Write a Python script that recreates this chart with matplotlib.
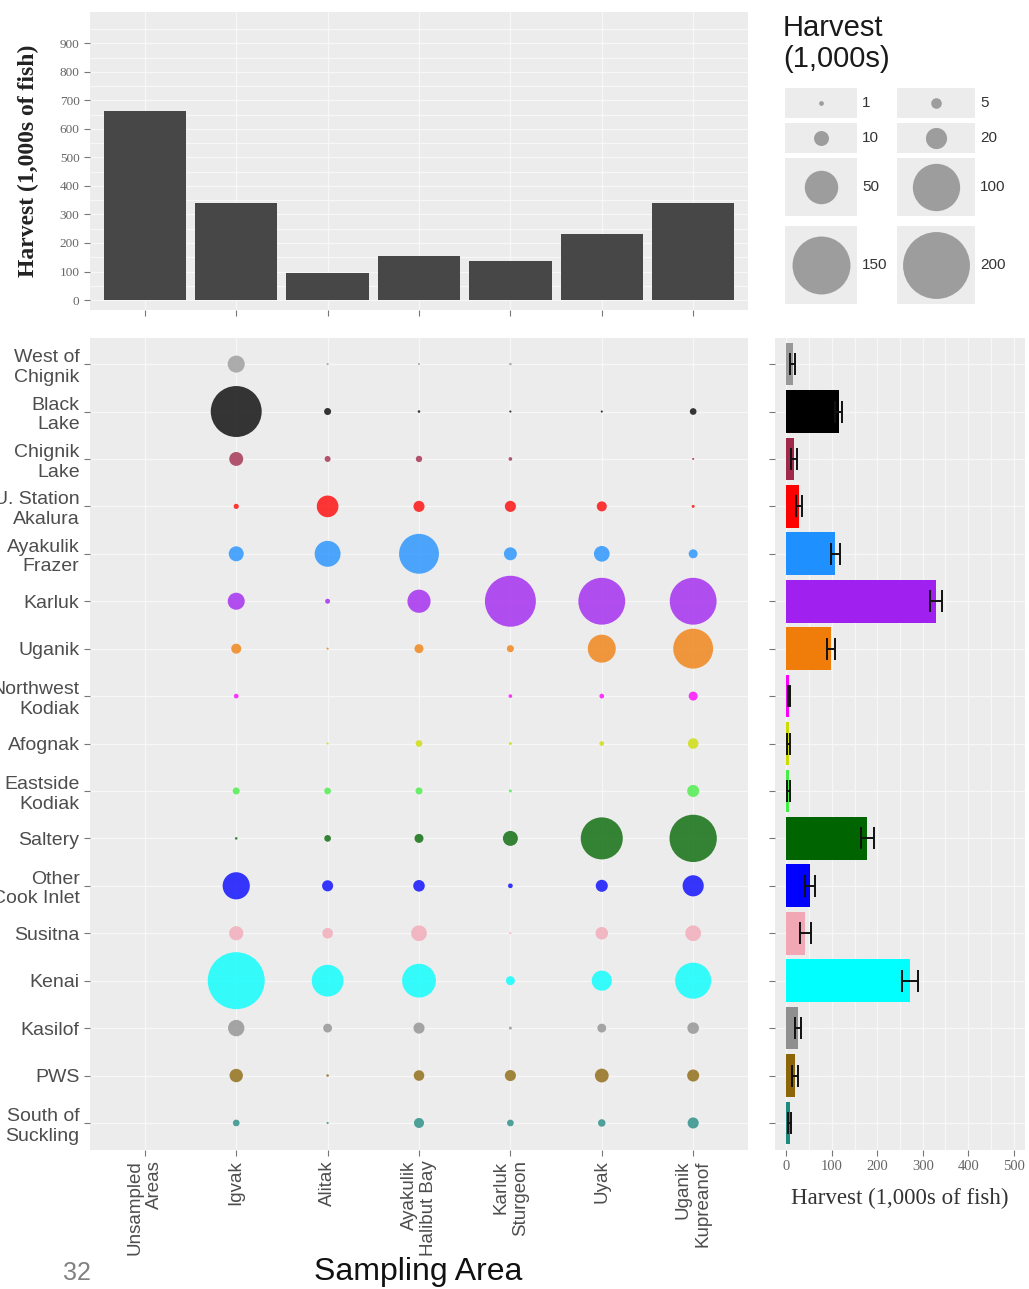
import matplotlib.pyplot as plt
import numpy as np
from matplotlib.patches import Rectangle

plt.rcParams['font.family'] = ['Liberation Sans', 'DejaVu Sans']

# --- data -------------------------------------------------------------
sampling_areas = ["Unsampled\nAreas", "Igvak", "Alitak", "Ayakulik\nHalibut Bay",
                  "Karluk\nSturgeon", "Uyak", "Uganik\nKupreanof"]
area_harvest = [664, 340, 93, 155, 136, 231, 340]

stocks = ["West of\nChignik", "Black\nLake", "Chignik\nLake", "U. Station\nAkalura",
          "Ayakulik\nFrazer", "Karluk", "Uganik", "Northwest\nKodiak", "Afognak",
          "Eastside\nKodiak", "Saltery", "Other\nCook Inlet", "Susitna", "Kenai",
          "Kasilof", "PWS", "South of\nSuckling"]
stock_colors = ["#999999", "#000000", "#A0284A", "#FF0000", "#1E90FF", "#A020F0",
                "#F07D0A", "#FF00FF", "#CDDC00", "#44EE44", "#006400", "#0000FF",
                "#F2A7B5", "#00FFFF", "#8F8F8F", "#8B6508", "#1F8A80"]

# harvest (1,000s) by stock within each sampled area
igvak    = [13, 116, 8.7, 1.2, 10, 13, 4.5, 1.0, 0, 2.2, 0.3, 33, 9, 145, 12, 8, 2]
alitak   = [0.2, 2.2, 1.6, 21, 30, 1.1, 0.2, 0, 0.2, 2.0, 2.0, 5.5, 5, 45, 3.5, 0.3, 0.2]
ayakulik = [0.2, 0.3, 1.8, 5.5, 71, 24, 3.6, 0, 2.0, 2.2, 3.6, 6.0, 11, 51, 5.5, 5, 4.5]
karluk   = [0.3, 0.2, 0.6, 5.5, 7.5, 116, 2.2, 0.6, 0.4, 0.4, 10, 1.0, 0.2, 3.6, 0.4, 5.5, 2.0]
uyak     = [0, 0.2, 0, 4.5, 11, 98, 35, 1.0, 1.0, 0, 79, 6.5, 7, 18, 3.5, 8.5, 2.5]
uganik   = [0, 2.0, 0.2, 0.4, 3.6, 98, 71, 3.6, 5.0, 6.5, 100, 20, 11, 58, 6, 6.5, 5.5]
stock_by_area = [igvak, alitak, ayakulik, karluk, uyak, uganik]

stock_harvest = [14, 115, 16, 28, 108, 330, 98, 6, 5, 5, 178, 52, 42, 272, 26, 19, 7]
stock_err = [5, 7, 6.5, 6, 9, 13, 8, 3, 3, 3, 14, 12, 13, 17, 7, 6.5, 4]

legend_values = [1, 5, 10, 20, 50, 100, 150, 200]


def bubble_size(v):
    # area proportional to harvest, 200 -> ~67 px diameter
    return np.asarray(v, dtype=float) * 11.6


W, H = 1029, 1289
fig = plt.figure(figsize=(W / 100, H / 100), dpi=100)


def px_axes(x0, y0, x1, y1):
    return fig.add_axes([x0 / W, 1 - y1 / H, (x1 - x0) / W, (y1 - y0) / H])


panel_bg = '#ececec'
grid_c = '#f7f7f7'
serif = ['Liberation Serif', 'DejaVu Serif']


def gg_style(ax):
    ax.set_facecolor(panel_bg)
    for s in ax.spines.values():
        s.set_visible(False)
    ax.tick_params(which='major', length=4, color='#777777', width=0.8)
    ax.tick_params(which='minor', length=0)
    ax.grid(True, which='both', color=grid_c, linewidth=0.9, zorder=0)
    ax.set_axisbelow(True)


# --- top bars: total harvest by sampling area --------------------------
ax_top = px_axes(90, 12, 748, 310)
gg_style(ax_top)
xpos = np.arange(1, len(sampling_areas) + 1)
ax_top.bar(xpos, area_harvest, width=0.9, color='#474747', zorder=2)
ax_top.set_xlim(0.4, 7.6)
ax_top.set_ylim(-35, 1010)
ax_top.set_yticks(range(0, 901, 100))
ax_top.set_yticks(range(50, 951, 100), minor=True)
ax_top.set_xticks(xpos)
ax_top.set_xticklabels([])
for lab in ax_top.get_yticklabels():
    lab.set_family(serif)
    lab.set_fontsize(9.5)
    lab.set_color('#666666')
fig.text(28 / W, 1 - 161 / H, 'Harvest (1,000s of fish)', rotation=90,
         ha='center', va='center', family=serif, fontweight='bold',
         fontsize=17, color='#222222')

# --- bubble panel --------------------------------------------------------
ax_b = px_axes(90, 338, 748, 1150)
gg_style(ax_b)
rows = np.arange(1, len(stocks) + 1)
cols = np.array(stock_colors)
for j, col in enumerate(stock_by_area):
    vals = np.array(col, dtype=float)
    keep = vals > 0
    ax_b.scatter(np.full(keep.sum(), j + 2), rows[keep], s=bubble_size(vals[keep]),
                 c=cols[keep], alpha=0.78, linewidths=0, zorder=3)
ax_b.set_xlim(0.4, 7.6)
ax_b.set_ylim(17.57, 0.45)
ax_b.set_yticks(rows)
ax_b.set_yticklabels(stocks, fontsize=14, color='#4d4d4d')
ax_b.set_xticks(xpos)
ax_b.set_xticklabels(sampling_areas, rotation=90, ha='center', va='top',
                     multialignment='right', fontsize=13.5, color='#4d4d4d')
fig.text(418 / W, 1 - 1272 / H, 'Sampling Area', ha='center', va='center',
         fontsize=23, color='#111111')
fig.text(77 / W, 1 - 1273 / H, '32', ha='center', va='center',
         fontsize=18, color='#808080')

# --- right bars: total harvest by stock --------------------------------
ax_r = px_axes(775, 338, 1025, 1150)
gg_style(ax_r)
ax_r.barh(rows, stock_harvest, height=0.9, color=stock_colors, zorder=2)
ax_r.errorbar(stock_harvest, rows, xerr=stock_err, fmt='none', ecolor='#111111',
              elinewidth=1.4, capsize=8, capthick=1.4, zorder=3)
ax_r.set_ylim(17.57, 0.45)
ax_r.set_xlim(-25, 525)
ax_r.set_yticks(rows)
ax_r.set_yticklabels([])
ax_r.set_xticks(range(0, 501, 100))
ax_r.set_xticks(range(50, 501, 100), minor=True)
for lab in ax_r.get_xticklabels():
    lab.set_family(serif)
    lab.set_fontsize(10.5)
    lab.set_color('#666666')
fig.text(900 / W, 1 - 1198 / H, 'Harvest (1,000s of fish)', ha='center',
         va='center', family=serif, fontsize=16.5, color='#333333')

# --- size legend --------------------------------------------------------
ax_l = px_axes(775, 0, 1029, 330)
ax_l.set_xlim(775, 1029)
ax_l.set_ylim(330, 0)
ax_l.axis('off')
ax_l.text(783, 14, 'Harvest\n(1,000s)', ha='left', va='top', fontsize=21,
          color='#1a1a1a', linespacing=1.15)
key_cols = [(785, 857), (897, 975)]
key_rows = [(88, 118), (123, 153), (158, 216), (226, 304)]
for i, v in enumerate(legend_values):
    r, c = divmod(i, 2)
    x0, x1 = key_cols[c]
    y0, y1 = key_rows[r]
    ax_l.add_patch(Rectangle((x0, y0), x1 - x0, y1 - y0, facecolor=panel_bg,
                             edgecolor='none'))
    ax_l.scatter([(x0 + x1) / 2], [(y0 + y1) / 2], s=bubble_size([v]),
                 color='#8a8a8a', alpha=0.8, linewidths=0, zorder=3)
    ax_l.text(x1 + 5, (y0 + y1) / 2, str(v), ha='left', va='center',
              fontsize=11, color='#333333')

fig.savefig('out.png', dpi=100, facecolor='white')
